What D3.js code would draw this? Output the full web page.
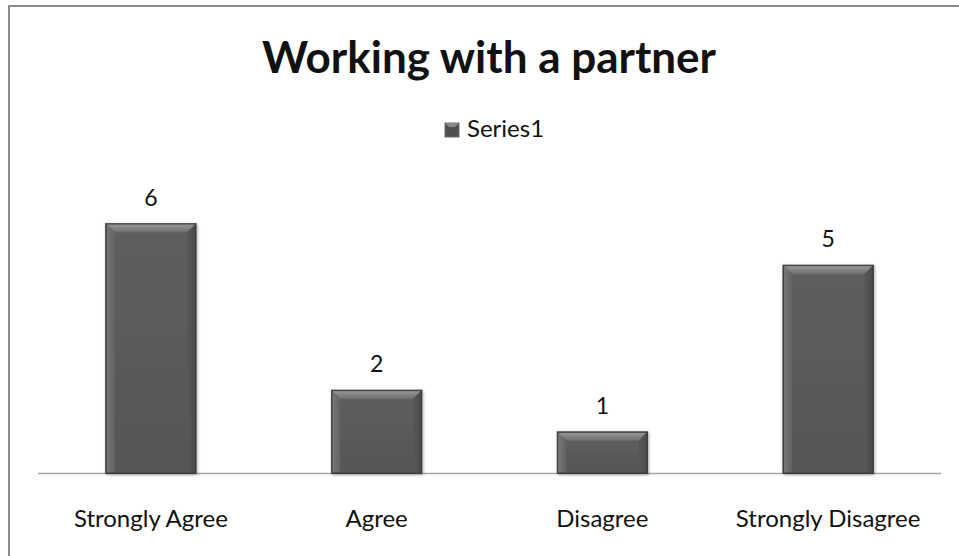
<!DOCTYPE html>
<html>
<head>
<meta charset="utf-8">
<script src="https://cdn.jsdelivr.net/npm/d3@7"></script>
<style>
  html, body { margin: 0; padding: 0; background: #fff; }
  svg { display: block; }
  text { font-family: Lato, "Open Sans", sans-serif; fill: #111; }
</style>
</head>
<body>
<svg id="chart" width="959" height="556"></svg>
<script>
const categories = ["Strongly Agree", "Agree", "Disagree", "Strongly Disagree"];
const values = [6, 2, 1, 5];
const seriesName = "Series1";
const chartTitle = "Working with a partner";

const W = 959, H = 556;
const svg = d3.select("#chart");

// chart frame
svg.append("rect")
  .attr("x", 9).attr("y", 6)
  .attr("width", W + 10).attr("height", H + 10)
  .attr("fill", "#fff").attr("stroke", "#8c8c8c").attr("stroke-width", 2);

const plot = { left: 38, right: 941, bottom: 473.5 };

const x = d3.scaleBand()
  .domain(categories)
  .range([plot.left, plot.right])
  .paddingInner(0.6)
  .paddingOuter(0.3);

const y = d3.scaleLinear()
  .domain([0, 6])
  .range([plot.bottom, 223.5]);

const defs = svg.append("defs");
const grad = (id, x1, y1, x2, y2, stops) => {
  const g = defs.append("linearGradient").attr("id", id)
    .attr("x1", x1).attr("y1", y1).attr("x2", x2).attr("y2", y2);
  stops.forEach(([o, c]) => g.append("stop").attr("offset", o).attr("stop-color", c));
};
grad("face", 0, 0, 0, 1, [[0, "#5e5e5e"], [1, "#565656"]]);
grad("bevTop", 0, 0, 0, 1, [[0, "#9a9a9a"], [0.5, "#858585"], [1, "#6c6c6c"]]);
grad("bevL", 0, 0, 1, 0, [[0, "#7a7a7a"], [1, "#626262"]]);
grad("bevR", 1, 0, 0, 0, [[0, "#4a4a4a"], [1, "#585858"]]);

const shadow = defs.append("filter").attr("id", "shadow")
  .attr("x", "-10%").attr("y", "-10%").attr("width", "120%").attr("height", "120%");
shadow.append("feGaussianBlur").attr("in", "SourceAlpha").attr("stdDeviation", 1.5);
shadow.append("feOffset").attr("dx", 1).attr("dy", 1).attr("result", "b");
shadow.append("feComponentTransfer").append("feFuncA").attr("type", "linear").attr("slope", 0.35);
const fm = shadow.append("feMerge");
fm.append("feMergeNode");
fm.append("feMergeNode").attr("in", "SourceGraphic");

// baseline
svg.append("line")
  .attr("x1", plot.left).attr("x2", plot.right)
  .attr("y1", plot.bottom).attr("y2", plot.bottom)
  .attr("stroke", "#a6a6a6").attr("stroke-width", 1.5);

const data = categories.map((c, i) => ({ c, v: values[i] }));
const bev = 9;

const bars = svg.append("g").selectAll("g").data(data).join("g")
  .attr("filter", "url(#shadow)");

bars.append("rect")
  .attr("x", d => x(d.c)).attr("y", d => y(d.v))
  .attr("width", x.bandwidth()).attr("height", d => y(0) - y(d.v))
  .attr("fill", "url(#face)").attr("stroke", "#404040").attr("stroke-width", 1);

// bevelled top edge
bars.append("path")
  .attr("fill", "url(#bevTop)")
  .attr("d", d => {
    const x0 = x(d.c), x1 = x0 + x.bandwidth(), t = y(d.v);
    return `M${x0},${t}L${x1},${t}L${x1 - bev},${t + bev}L${x0 + bev},${t + bev}Z`;
  });
// left bevel
bars.append("path")
  .attr("fill", "url(#bevL)")
  .attr("d", d => {
    const x0 = x(d.c), t = y(d.v), b = y(0);
    return `M${x0},${t}L${x0 + bev},${t + bev}L${x0 + bev},${b - 2}L${x0},${b}Z`;
  });
// right bevel
bars.append("path")
  .attr("fill", "url(#bevR)")
  .attr("d", d => {
    const x1 = x(d.c) + x.bandwidth(), t = y(d.v), b = y(0);
    return `M${x1},${t}L${x1 - bev},${t + bev}L${x1 - bev},${b - 2}L${x1},${b}Z`;
  });
bars.append("rect")
  .attr("x", d => x(d.c) + 0.5).attr("y", d => y(d.v) + 0.5)
  .attr("width", x.bandwidth() - 1).attr("height", d => y(0) - y(d.v) - 1)
  .attr("fill", "none").attr("stroke", "#3c3c3c").attr("stroke-width", 1);

// value labels
svg.append("g").selectAll("text").data(data).join("text")
  .attr("x", d => x(d.c) + x.bandwidth() / 2)
  .attr("y", d => y(d.v) - 18)
  .attr("text-anchor", "middle")
  .style("font-size", "23px")
  .text(d => d.v);

// category labels
svg.append("g").selectAll("text").data(categories).join("text")
  .attr("x", d => x(d) + x.bandwidth() / 2)
  .attr("y", 527)
  .attr("text-anchor", "middle")
  .style("font-size", "24px")
  .text(d => d);

// title
svg.append("text")
  .attr("x", 489).attr("y", 73)
  .attr("text-anchor", "middle")
  .style("font-size", "44px").style("font-weight", "bold")
  .text(chartTitle);

// legend
const lg = svg.append("g").attr("transform", "translate(445,123)");
lg.append("rect").attr("width", 14).attr("height", 14)
  .attr("fill", "#4f4f4f").attr("stroke", "#6a6a6a");
lg.append("path").attr("d", "M0,0L14,0L10,4L4,4Z").attr("fill", "#8a8a8a");
lg.append("text").attr("x", 22).attr("y", 14)
  .style("font-size", "24px").text(seriesName);
</script>
</body>
</html>
